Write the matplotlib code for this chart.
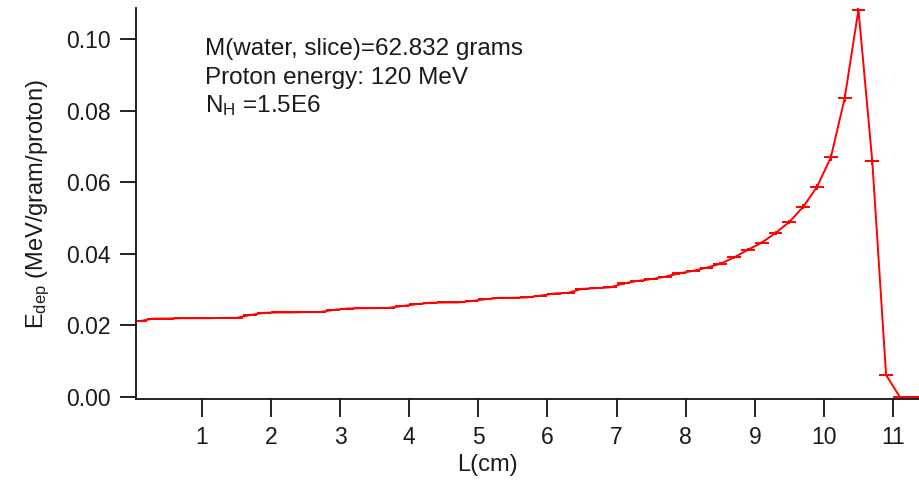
import matplotlib
matplotlib.use('Agg')
import matplotlib.pyplot as plt
import numpy as np

plt.rcParams['font.family'] = ['Liberation Sans', 'DejaVu Sans']
plt.rcParams['mathtext.default'] = 'regular'

# depth bins (cm), 0.2 cm wide
depth = np.round(np.arange(0.1, 11.31, 0.2), 2)

# deposited energy per bin (MeV/gram/proton)
edep = [0.0212, 0.0219, 0.0219, 0.0220, 0.0220,
        0.0220, 0.0221, 0.0221, 0.0229, 0.0235,
        0.0236, 0.0236, 0.0237, 0.0237, 0.0243,
        0.0247, 0.0248, 0.0248, 0.0249, 0.0254,
        0.0259, 0.0263, 0.0264, 0.0264, 0.0268,
        0.0273, 0.0277, 0.0277, 0.0278, 0.0283,
        0.0289, 0.0291, 0.0302, 0.0304, 0.0306,
        0.0317, 0.0324, 0.0329, 0.0336, 0.0345,
        0.0352, 0.0361, 0.0372, 0.0390, 0.0411,
        0.0431, 0.0458, 0.0489, 0.0531, 0.0587,
        0.0669, 0.0834, 0.1082, 0.0658, 0.0061,
        0.0, 0.0]

# statistical errors
edepErr = [0.0002, 0.0002, 0.0002, 0.0002, 0.0002,
           0.0002, 0.0002, 0.0002, 0.0002, 0.0002,
           0.0002, 0.0002, 0.0002, 0.0002, 0.0002,
           0.0002, 0.0002, 0.0002, 0.0002, 0.0002,
           0.0002, 0.0002, 0.0002, 0.0002, 0.0002,
           0.0002, 0.0002, 0.0002, 0.0002, 0.0002,
           0.0002, 0.0002, 0.0002, 0.0002, 0.0002,
           0.0003, 0.0003, 0.0003, 0.0003, 0.0003,
           0.0003, 0.0003, 0.0004, 0.0004, 0.0004,
           0.0005, 0.0005, 0.0006, 0.0007, 0.0008,
           0.0009, 0.0011, 0.0013, 0.0010, 0.0003,
           0.0, 0.0]

binHalfWidth = 0.1

textColor = '#1a1a1a'
tickSize = 16.5
labelSize = 17
noteSize = 17.5

fig = plt.figure(figsize=(9.19, 4.83), dpi=100)
ax = fig.add_axes([0.1485, 0.1729, 0.8515, 0.8106])

ax.errorbar(depth, edep, xerr=binHalfWidth, yerr=edepErr, color='#ff0000',
            lw=1.4, elinewidth=1.4, capsize=0)

ax.set_xlim(0.052, 11.376)
ax.set_ylim(-0.0007, 0.10866)
ax.set_xticks(range(1, 12))
ax.set_yticks([0.0, 0.02, 0.04, 0.06, 0.08, 0.10])
ax.set_yticklabels(['0.00', '0.02', '0.04', '0.06', '0.08', '0.10'])

for side in ['top', 'right']:
    ax.spines[side].set_visible(False)
for side in ['left', 'bottom']:
    ax.spines[side].set_linewidth(1.3)
    ax.spines[side].set_color('#111111')

ax.tick_params(axis='y', direction='out', length=11.5, width=1.3, pad=7,
               labelsize=tickSize, labelcolor=textColor, color='#111111')
ax.tick_params(axis='x', direction='out', length=13, width=1.3, pad=6,
               labelsize=tickSize, labelcolor=textColor, color='#111111')

ax.set_xlabel('L(cm)', fontsize=labelSize, color=textColor)
ax.xaxis.set_label_coords(0.448, -0.14)
ax.set_ylabel('E$_{dep}$ (MeV/gram/proton)', fontsize=labelSize, color=textColor)
ax.yaxis.set_label_coords(-0.108, 0.5)

# run parameters
notes = ['M(water, slice)=62.832 grams', 'Proton energy: 120 MeV', 'N$_{H}$ =1.5E6']
baselines = [55, 84, 112]
for note, base in zip(notes, baselines):
    fig.text(205 / 919, 1 - base / 483, note, fontsize=noteSize, color=textColor,
             ha='left', va='baseline')

fig.savefig('out.png', dpi=100)
